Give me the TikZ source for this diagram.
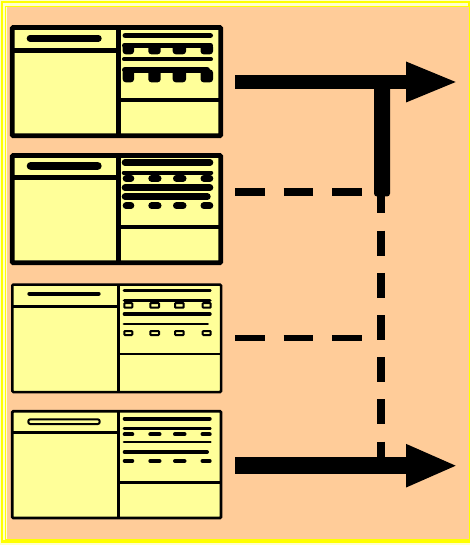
\documentclass[tikz,border=0pt]{standalone}
\usetikzlibrary{arrows.meta}
\definecolor{paper}{HTML}{FFFFCC}
\definecolor{frame}{HTML}{FFFF00}
\definecolor{peach}{HTML}{FFCC99}
\definecolor{card}{HTML}{FFFF99}
\tikzset{
  panel/.style={draw=black, fill=card, rounded corners=1pt, inner sep=0pt, outer sep=0pt},
  rule/.style={draw=black, line cap=round},
  slot/.style={draw=black, fill=card, line width=2pt, rounded corners=0.8pt},
  tab/.style={fill=black, rounded corners=3pt},
  flow/.style={draw=black, line cap=butt},
  route/.style={draw=black, dash pattern=on 25pt off 17.2pt},
  branch/.style={draw=black, dash pattern=on 29.5pt off 19.2pt},
}
% round-capped bar given by its visible left/right extent
\newcommand\barline[4]{% width, x-left, x-right, y
  \pgfmathsetmacro\bl{#2+#1/2}\pgfmathsetmacro\br{#3-#1/2}%
  \draw[rule, line width=#1pt] (\bl,#4) -- (\br,#4);}
% four short round-capped marks under a bar
\newcommand\dashmarks[3]{% width, y, right end of last mark
  \barline{#1}{122.7}{134.3}{#2}\barline{#1}{148.3}{161.5}{#2}%
  \barline{#1}{173}{186.5}{#2}\barline{#1}{200.5}{#3}{#2}}
\newcommand\tabrow[2]{% top, bottom
  \foreach \a/\b in {122.7/134,148.3/160.7,172.7/186,200.5/213}
    \fill[tab] (\a,#1) rectangle (\b,#2);}
\newcommand\slotrow[2]{% top, bottom
  \foreach \a/\b in {124.3/132.3,150.3/159,175/183.7,202.7/210.7}
    \draw[slot] (\a,#1) rectangle (\b,#2);}
\begin{document}
\begin{tikzpicture}[x=1pt,y=-1pt]
\path[use as bounding box] (0,0) rectangle (470,545);
% page and frame
\fill[paper] (0,0) rectangle (470,545);
\draw[frame, line width=2.2pt] (2,2) rectangle (469,541.5);
\fill[peach] (6.5,7.5) rectangle (469,538.5);
\draw[frame, line width=1.2pt] (5.5,6.5) rectangle (469.5,539.5);

% ---- panel 1 (heavy) ----
\node[panel, line width=4.8pt, minimum width=208.6pt, minimum height=108.3pt] (p1) at (116.5,81.65) {};
\draw[line width=4.6pt] (118.5,27.5) -- (118.5,135.8);
\draw[line width=4.6pt] (12.2,50.5) -- (118.5,50.5);
\draw[line width=4.6pt] (118.5,100) -- (220.8,100);
\barline{6.7}{26.7}{101.7}{38.3}
\barline{5.6}{122.5}{213}{35.5}
\tabrow{44}{54.3}
\barline{5.3}{122}{213}{45.3}
\barline{4}{122}{213}{59.3}
\tabrow{69.5}{82.3}
\barline{6}{122}{210}{69.7}

% ---- panel 2 (heavy) ----
\node[panel, line width=4.8pt, minimum width=208.6pt, minimum height=107.3pt] (p2) at (116.5,209.15) {};
\draw[line width=4.6pt] (118.5,155.5) -- (118.5,262.8);
\draw[line width=4.6pt] (12.2,177.3) -- (118.5,177.3);
\draw[line width=4.6pt] (118.5,227) -- (220.8,227);
\barline{8.3}{26.7}{101.7}{165.8}
\barline{6.4}{121.7}{213.3}{162.5}
\barline{4.3}{121.7}{213.3}{172.9}
\dashmarks{6.7}{178.3}{213.3}
\barline{6.7}{121.7}{213.3}{187.7}
\barline{6.7}{121.7}{210.7}{196.7}
\dashmarks{6.7}{205.7}{213.3}

% ---- panel 3 (light, open slots) ----
\node[panel, line width=2.5pt, minimum width=208.7pt, minimum height=107.4pt] (p3) at (116.65,338.3) {};
\draw[line width=2.5pt] (118.7,284.6) -- (118.7,392);
\draw[line width=2.5pt] (12.3,306.7) -- (118.7,306.7);
\draw[line width=2.5pt] (118.7,353.8) -- (221,353.8);
\barline{4.3}{27.3}{100.7}{293.8}
\barline{2.7}{122.7}{211.7}{290.5}
\slotrow{303}{307.7}
\barline{3.5}{122.7}{211.7}{300.3}
\barline{3.5}{122.7}{211.7}{314}
\barline{2.3}{122.7}{209}{323.8}
\slotrow{331}{335}

% ---- panel 4 (light, outlined title) ----
\node[panel, line width=2.7pt, minimum width=208.7pt, minimum height=106.7pt] (p4) at (116.65,464.65) {};
\draw[line width=2.7pt] (118.7,411.3) -- (118.7,518);
\draw[line width=2.7pt] (12.3,432.7) -- (118.7,432.7);
\draw[line width=2.7pt] (118.7,482.2) -- (221,482.2);
\draw[slot, rounded corners=2pt] (28.3,419.3) rectangle (99.7,424);
\barline{4}{122.7}{211.7}{418.7}
\barline{2.5}{122.7}{211.7}{428.5}
\dashmarks{4}{434.3}{211.7}
\barline{2.5}{122.7}{211.7}{441.8}
\barline{4.3}{122.7}{209}{452}
\dashmarks{4}{461}{211.7}

% ---- connectors ----
\coordinate (outTop) at (235,82);
\coordinate (tipTop) at (455.7,82);
\coordinate (join) at (382,82);
\coordinate (stub) at (382,196.5);
\coordinate (trunkTop) at (380.8,188.4);
\coordinate (trunkBot) at (380.8,465.7);
\coordinate (outBot) at (235,465.7);
\coordinate (tipBot) at (455.7,465.7);
\coordinate (in2) at (235,192);
\coordinate (end2) at (363.3,192);
\coordinate (in3) at (235,338);
\coordinate (end3) at (363.3,338);

\draw[route, line width=8.5pt] (trunkTop) -- (trunkBot);
\draw[branch, line width=7.7pt] (in2) -- (end2);
\draw[branch, line width=6.3pt] (in3) -- (end3);
\fill[rounded corners=3pt] (join -| 374,0) rectangle (stub -| 390,0);
\draw[flow, line width=14.3pt, -{Triangle[length=49.7pt, width=41pt, line width=0pt]}] (outTop) -- (tipTop);
\draw[flow, line width=16.7pt, -{Triangle[length=49.7pt, width=43.7pt, line width=0pt]}] (outBot) -- (tipBot);
\end{tikzpicture}
\end{document}
